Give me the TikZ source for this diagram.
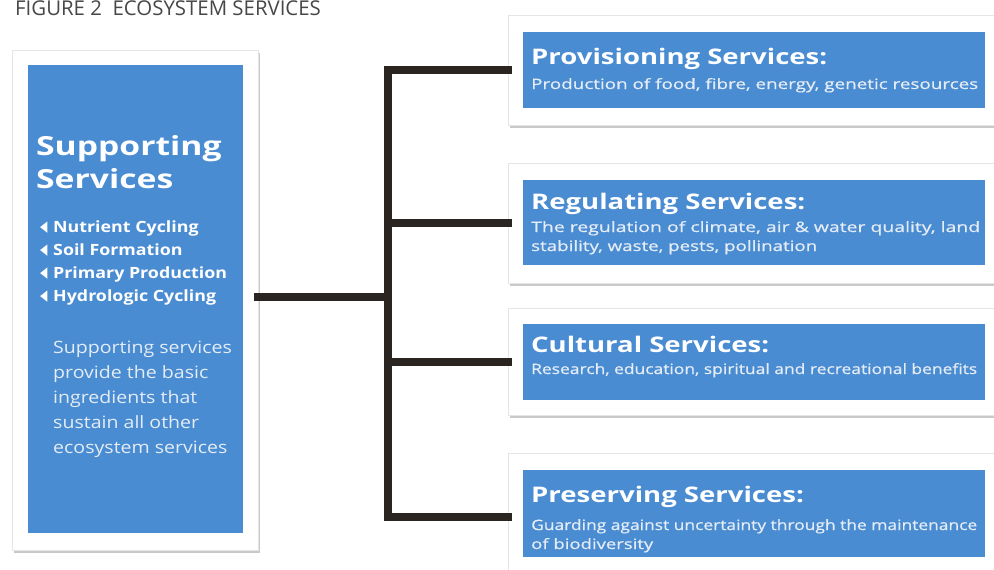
\documentclass[tikz,border=0pt]{standalone}
\usepackage{fontspec}
\usepackage{graphicx}
\setmainfont{Open Sans}[FakeStretch=1.15]
\newfontfamily\plainfont{Open Sans}
\newfontfamily\widefont{Open Sans}[FakeStretch=1.28]
\newfontfamily\subfont{Open Sans}[FakeStretch=1.15, FakeBold=0.6]
\newfontfamily\symfont{DejaVu Sans}
\usetikzlibrary{shadows}
\definecolor{esblue}{HTML}{4A8CD2}
\definecolor{esline}{HTML}{2B2522}
\definecolor{softwhite}{HTML}{E4ECF6}
\newcommand{\fitw}[2]{\resizebox{#1}{\height}{#2}}
\newcommand{\tri}{\makebox[13pt][l]{\raisebox{0.5pt}{\symfont\fontsize{12}{12}\selectfont\scalebox{0.8}[1.25]{◀}}}}
\begin{document}
\begin{tikzpicture}[x=1pt,y=-1pt,
  card/.style={draw=black!10, fill=white, inner sep=0pt, anchor=north west,
    drop shadow={shadow xshift=1.5pt, shadow yshift=-3pt, fill=black!60, opacity=0.35}},
  bluebox/.style={fill=esblue, inner sep=0pt, anchor=north west},
  txt/.style={inner sep=0pt, anchor=base west, text=white},
  ttl/.style={txt, font=\widefont\fontsize{21.5}{21.5}\selectfont\bfseries},
  sub/.style={txt, text=softwhite, font=\subfont\fontsize{14.3}{14.3}\selectfont},
  bul/.style={txt, font=\fontsize{15.5}{15.5}\selectfont\bfseries},
  para/.style={txt, text=softwhite, font=\fontsize{17}{17}\selectfont},
  conn/.style={draw=esline, line width=8pt, line cap=rect, line join=miter}]
\useasboundingbox (0,0) rectangle (994,570);
\fill[white] (0,0) rectangle (994,570);

% figure title
\node[inner sep=0pt, anchor=base west, text=black!72, font=\plainfont\fontsize{20.4}{20.4}\selectfont] (figtitle) at (15,15.2) {FIGURE 2\ \ ECOSYSTEM SERVICES};

\coordinate (hub) at (388,297);

% left card
\node[card, minimum width=246pt, minimum height=500pt] (left) at (12,50) {};
\node[bluebox, minimum width=215pt, minimum height=468pt] (leftb) at (28,65) {};
\node[txt, font=\widefont\fontsize{26.3}{26.3}\selectfont\bfseries] (sup1) at (36,155) {Supporting};
\node[txt, font=\widefont\fontsize{26.3}{26.3}\selectfont\bfseries] (sup2) at (36,188) {Services};
\node[bul] (b1) at (40,232) {\tri Nutrient Cycling};
\node[bul] (b2) at (40,255) {\tri Soil Formation};
\node[bul] (b3) at (40,278) {\tri Primary Production};
\node[bul] (b4) at (40,301) {\tri Hydrologic Cycling};
\node[para] (p1) at (53,353) {Supporting services};
\node[para] (p2) at (53,378) {provide the basic};
\node[para] (p3) at (53,403) {ingredients that};
\node[para] (p4) at (53,428) {sustain all other};
\node[para] (p5) at (53,453) {ecosystem services};

% right cards
\node[card, minimum width=492pt, minimum height=110pt] (prov) at (508,15) {};
\node[bluebox, minimum width=462pt, minimum height=76pt] (provb) at (523,32) {};
\node[ttl] (provt) at (531,64) {Provisioning Services:};
\node[sub] (provs) at (531,89) {\fitw{447pt}{Production of food, fibre, energy, genetic resources}};

\node[card, minimum width=492pt, minimum height=120pt] (reg) at (508,163) {};
\node[bluebox, minimum width=462pt, minimum height=85pt] (regb) at (523,180) {};
\node[ttl] (regt) at (531,209) {Regulating Services:};
\node[sub] (regs1) at (531,232) {\fitw{449pt}{The regulation of climate, air \& water quality, land}};
\node[sub] (regs2) at (531,251) {\fitw{286pt}{stability, waste, pests, pollination}};

\node[card, minimum width=492pt, minimum height=107pt] (cult) at (508,308) {};
\node[bluebox, minimum width=462pt, minimum height=76pt] (cultb) at (523,324) {};
\node[ttl] (cultt) at (531,352) {Cultural Services:};
\node[sub] (cults) at (531,374) {\fitw{446pt}{Research, education, spiritual and recreational benefits}};

\node[card, minimum width=492pt, minimum height=127pt] (pres) at (508,453) {};
\node[bluebox, minimum width=462pt, minimum height=87pt] (presb) at (523,470) {};
\node[ttl] (prest) at (531,502) {Preserving Services:};
\node[sub] (press1) at (531,530) {\fitw{446pt}{Guarding against uncertainty through the maintenance}};
\node[sub] (press2) at (531,549) {\fitw{122pt}{of biodiversity}};

% connector lines
\draw[conn] (left.east |- hub) -- (hub);
\draw[conn] (prov.west) -| (hub |- pres.west) -- (pres.west);
\draw[conn] (hub |- reg.west) -- (reg.west);
\draw[conn] (hub |- cult.west) -- (cult.west);
\end{tikzpicture}
\end{document}
